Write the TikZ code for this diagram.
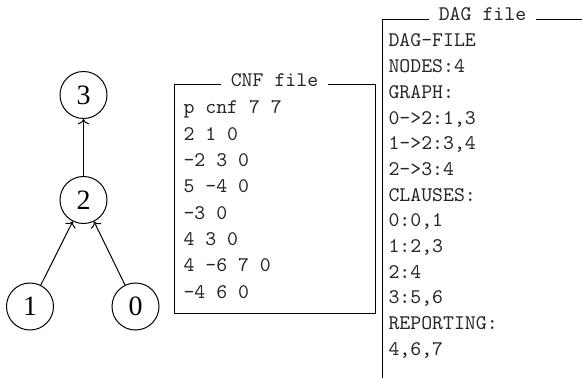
\documentclass[tikz,border=0pt]{standalone}
\usepackage{fontspec}
\setmainfont{Liberation Serif}
\usetikzlibrary{arrows.meta}

\begin{document}
\begin{tikzpicture}[x=0.5pt, y=-0.5pt, >=To, line width=0.5pt,
    vertex/.style={draw, circle, minimum size=23.5pt, inner sep=0pt, font=\fontsize{14}{14}\selectfont},
    listing/.style={anchor=base west, inner sep=0pt, text=black!85, font=\ttfamily\fontsize{10.4}{12}\selectfont},
    boxtitle/.style={anchor=base, fill=white, inner xsep=5pt, inner ysep=1.5pt, text=black!85, font=\ttfamily\fontsize{10.4}{12}\selectfont}]
    \useasboundingbox (0,0) rectangle (582,378);

    % the DAG
    \node[vertex] (n3) at (83.5,95) {3};
    \node[vertex] (n2) at (83.5,200) {2};
    \node[vertex] (n1) at (30,306.5) {1};
    \node[vertex] (n0) at (135.5,306.5) {0};
    \draw[->] (n1) -- (n2);
    \draw[->] (n0) -- (n2);
    \draw[->] (n2) -- (n3);

    % CNF file
    \draw (174,85) rectangle (375,314);
    \node[boxtitle] (cnftitle) at (274.5,87) {CNF file};
    \foreach \txt [count=\i from 0] in {p cnf 7 7, 2 1 0, -2 3 0, 5 -4 0, -3 0, 4 3 0, 4 -6 7 0, -4 6 0}
        \node[listing] (cnf\i) at (183,114+26.3*\i) {\txt};

    % DAG file
    \draw (382,20) rectangle (583,400);
    \node[boxtitle] (dagtitle) at (482.5,21) {DAG file};
    \foreach \txt [count=\i from 0] in {DAG-FILE, NODES:4, GRAPH:, {0->2:1,3}, {1->2:3,4}, 2->3:4, CLAUSES:,
        {0:0,1}, {1:2,3}, 2:4, {3:5,6}, REPORTING:, {4,6,7}}
        \node[listing] (dag\i) at (388,47+25.7*\i) {\txt};
\end{tikzpicture}
\end{document}
